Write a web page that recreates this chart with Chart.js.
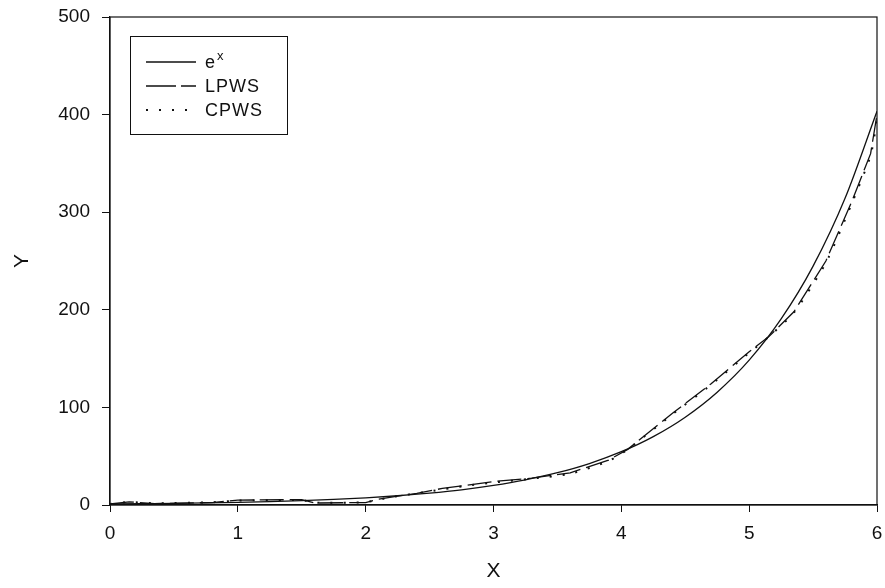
<!DOCTYPE html>
<html>
<head>
<meta charset="utf-8">
<script src="https://cdn.jsdelivr.net/npm/chart.js@4"></script>
<style>
  html, body { margin: 0; padding: 0; background: #fff; }
  #wrap { width: 885px; height: 588px; }
</style>
</head>
<body>
<div id="wrap"><canvas id="myChart" width="885" height="588"></canvas></div>
<script>
// values
const expX = [0, 0.25, 0.5, 0.75, 1, 1.25, 1.5, 1.75, 2, 2.25, 2.5, 2.75, 3, 3.25, 3.5, 3.75, 4, 4.25, 4.5, 4.75, 5, 5.25, 5.5, 5.75, 6];
const expY = [1, 1.3, 1.6, 2.1, 2.7, 3.5, 4.5, 5.8, 7.4, 9.5, 12.2, 15.6, 20.1, 25.8, 33.1, 42.5, 54.6, 70.1, 90, 115.6, 148.4, 190.6, 244.7, 314.2, 403.4];

const lpwsX = [0, 0.15, 0.35, 0.8, 1.0, 1.5, 1.6, 2.0, 2.1, 2.4, 2.6, 3.0, 3.3, 3.6, 3.9, 4.05, 4.4, 4.7, 5.0, 5.15, 5.35, 5.6, 5.8, 5.95, 6.0];
const lpwsY = [1, 3.2, 1.5, 2.5, 5, 5.5, 2, 2.5, 6, 12, 17, 24, 27.5, 33, 46, 57, 94, 124, 157, 172, 198, 250, 310, 360, 400];

const cpwsX = [0, 0.15, 0.35, 0.8, 1.0, 1.5, 1.6, 2.0, 2.2, 2.5, 2.8, 3.0, 3.3, 3.6, 3.9, 4.05, 4.4, 4.7, 5.0, 5.15, 5.35, 5.6, 5.8, 5.95, 6.0];
const cpwsY = [1, 3, 1.8, 2.8, 4.5, 5, 2.5, 3, 8, 14, 20, 23, 27, 32, 45, 57, 93, 123, 156, 172, 197, 248, 308, 358, 395];

const LABELS = ['e', 'LPWS', 'CPWS'];
const FONT = "'Liberation Sans', Arial, sans-serif";
const INK = '#111';

function points(xs, ys) {
  return xs.map((x, i) => ({x: x, y: ys[i]}));
}

// box round the plot + legend inside it
const framePlugin = {
  id: 'frame',
  afterDatasetsDraw(chart) {
    const {ctx, chartArea: a} = chart;
    ctx.save();
    ctx.strokeStyle = INK;
    ctx.lineWidth = 1.2;
    ctx.strokeRect(a.left, a.top, a.right - a.left, a.bottom - a.top);

    // legend
    ctx.fillStyle = '#fff';
    ctx.fillRect(130, 36, 157, 98);
    ctx.lineWidth = 1;
    ctx.strokeRect(130.5, 36.5, 157, 98);
    const rows = [62, 86, 110];
    chart.data.datasets.forEach((ds, i) => {
      ctx.strokeStyle = INK;
      ctx.lineWidth = ds.borderWidth;
      ctx.setLineDash(ds.legendDash || ds.borderDash || []);
      ctx.beginPath();
      ctx.moveTo(146, rows[i]);
      ctx.lineTo(196, rows[i]);
      ctx.stroke();
      ctx.setLineDash([]);
      ctx.fillStyle = INK;
      ctx.textBaseline = 'middle';
      ctx.textAlign = 'left';
      ctx.font = '18px ' + FONT;
      ctx.letterSpacing = '1px';
      ctx.fillText(ds.label, 205, rows[i] + 1);
      if (i === 0) {
        const w = ctx.measureText(ds.label).width;
        ctx.font = '13px ' + FONT;
        ctx.fillText('x', 205 + w + 1, rows[i] - 6);
      }
    });
    ctx.restore();
  }
};

const ctx = document.getElementById('myChart').getContext('2d');
const chart = new Chart(ctx, {
  type: 'line',
  data: {
    datasets: [
      {
        label: LABELS[0],
        data: points(expX, expY),
        borderColor: INK,
        borderWidth: 1.3,
        pointRadius: 0,
        fill: false,
        cubicInterpolationMode: 'monotone'
      },
      {
        label: LABELS[1],
        data: points(lpwsX, lpwsY),
        borderColor: INK,
        borderWidth: 1.3,
        borderDash: [24, 6],
        legendDash: [30, 5],
        pointRadius: 0,
        fill: false,
        tension: 0
      },
      {
        label: LABELS[2],
        data: points(cpwsX, cpwsY),
        borderColor: INK,
        borderWidth: 2,
        borderDash: [2, 11],
        pointRadius: 0,
        fill: false,
        tension: 0.2
      }
    ]
  },
  options: {
    responsive: false,
    animation: false,
    layout: { padding: { left: 0, right: 8, top: 17, bottom: 0 } },
    plugins: {
      legend: { display: false },
      tooltip: { enabled: false }
    },
    scales: {
      x: {
        type: 'linear',
        min: 0,
        max: 6,
        afterFit(scale) {
          scale.height = 83;
          scale.paddingLeft = 0;
          scale.paddingRight = 0;
        },
        border: { display: true, color: INK, width: 1.2 },
        grid: { drawOnChartArea: false, drawTicks: true, tickLength: 7, color: INK },
        ticks: { stepSize: 1, color: INK, padding: 10, font: { family: FONT, size: 19 } },
        title: { display: true, text: 'X', color: INK, padding: { top: 4, bottom: 4 }, font: { family: FONT, size: 21 } }
      },
      y: {
        min: 0,
        max: 500,
        afterFit(scale) {
          scale.width = 110;
          scale.paddingTop = 0;
          scale.paddingBottom = 0;
        },
        border: { display: true, color: INK, width: 1.2 },
        grid: { drawOnChartArea: false, drawTicks: true, tickLength: 8, color: INK },
        ticks: { stepSize: 100, color: INK, padding: 12, font: { family: FONT, size: 19 } },
        title: { display: true, text: 'Y', color: INK, padding: { top: 10, bottom: 4 }, font: { family: FONT, size: 21 } }
      }
    }
  },
  plugins: [framePlugin]
});
</script>
</body>
</html>
